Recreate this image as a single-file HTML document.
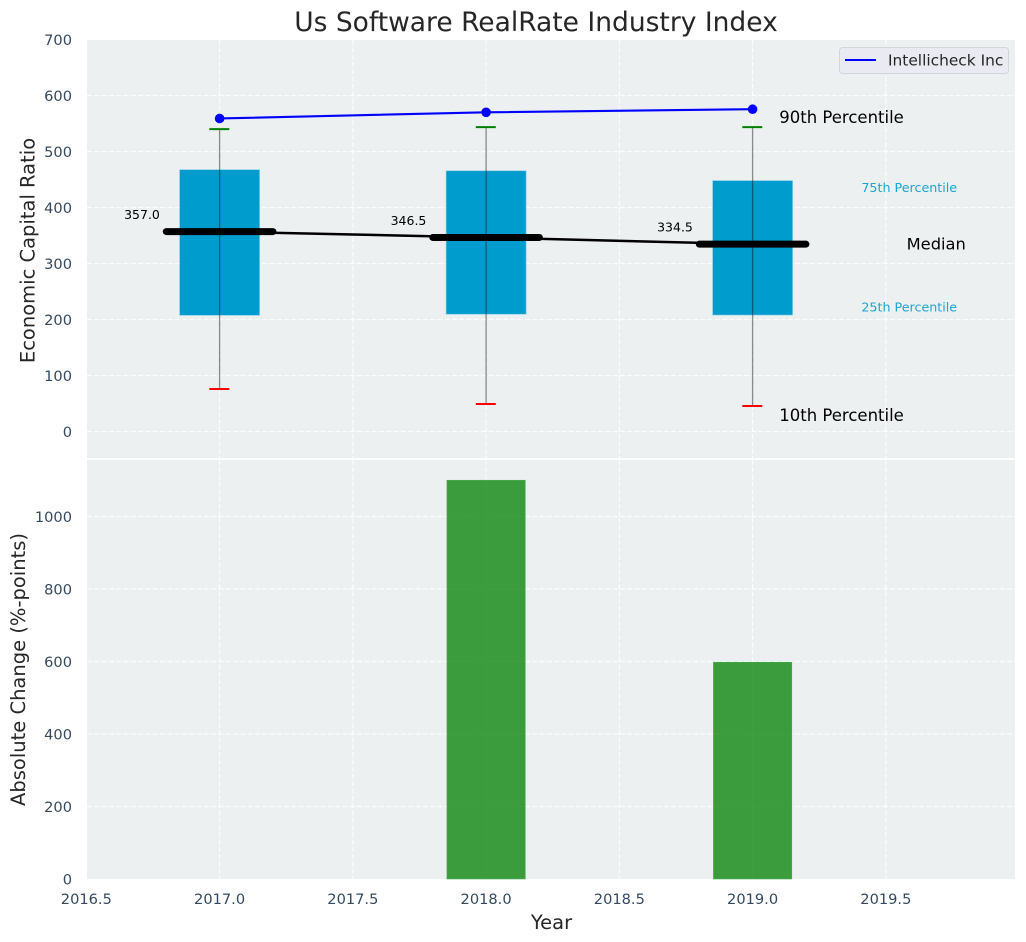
<!DOCTYPE html>
<html>
<head>
<meta charset="utf-8">
<title>Us Software RealRate Industry Index</title>
<style>
html,body{margin:0;padding:0;background:#fff;width:1026px;height:942px;overflow:hidden}
svg{display:block;font-family:"DejaVu Sans","Liberation Sans",sans-serif}
</style>
</head>
<body>
<svg id="chart" width="1026" height="942" viewBox="0 0 1026 942" xmlns="http://www.w3.org/2000/svg">
  <rect x="0" y="0" width="1026" height="942" fill="#ffffff"/>
  <g id="top-panel"></g>
  <g id="bottom-panel"></g>
  <text x="536" y="31" font-size="26.5" fill="#262626" text-anchor="middle">Us Software RealRate Industry Index</text>
  <text transform="translate(34.5,250.5) rotate(-90)" font-size="19.5" fill="#262626" text-anchor="middle">Economic Capital Ratio</text>
  <text transform="translate(25,669.5) rotate(-90)" font-size="19.5" fill="#262626" text-anchor="middle">Absolute Change (%-points)</text>
  <text x="551.5" y="929" font-size="19.5" fill="#262626" text-anchor="middle">Year</text>
  <g>
    <rect x="839.5" y="47.5" width="169" height="26" rx="3" fill="#eaeaf2" stroke="#d3d5da" stroke-width="1"/>
    <line x1="845" y1="60" x2="876" y2="60" stroke="#0000ff" stroke-width="2"/>
    <text x="888" y="65.5" font-size="15.4" fill="#262626">Intellicheck Inc</text>
  </g>
</svg>
<script>
const years = [2017, 2018, 2019];
const p90 = [540, 543.5, 543.5];
const p75 = [467.5, 465.5, 448];
const medians = [357.0, 346.5, 334.5];
const p25 = [207.5, 209.5, 208];
const p10 = [76, 49, 45.5];
const companyValues = [559, 570, 575.5];
const changeValues = [0, 1100, 598];
const xTickLabels = ['2016.5', '2017.0', '2017.5', '2018.0', '2018.5', '2019.0', '2019.5'];
const topYTickLabels = ['0', '100', '200', '300', '400', '500', '600', '700'];
const bottomYTickLabels = ['0', '200', '400', '600', '800', '1000'];

const NS = 'http://www.w3.org/2000/svg';
const L = 87, R = 1015, TT = 40, TB = 458, BT = 460, BB = 879;
const x = v => 219.6 + (v - 2017) * 266.5;
const yTop = v => 431.5 - v * 0.56;
const yBot = v => 879 - v * 0.3625;
const topPanel = document.getElementById('top-panel');
const bottomPanel = document.getElementById('bottom-panel');

function make(parent, tag, attrs, text) {
  const el = document.createElementNS(NS, tag);
  for (const k in attrs) el.setAttribute(k, attrs[k]);
  if (text !== undefined) el.textContent = text;
  parent.appendChild(el);
  return el;
}
let el;

// panel backgrounds
el = make(topPanel, 'rect', {x: L, y: TT, width: R - L, height: TB - TT, fill: '#ecf0f1'});


el = make(bottomPanel, 'rect', {x: L, y: BT, width: R - L, height: BB - BT, fill: '#ecf0f1'});



const gridStyle = {stroke: '#ffffff', 'stroke-width': 1.2, 'stroke-dasharray': '5.1 2.2', opacity: 0.8};

// vertical grid
xTickLabels.forEach(t => {
  const px = x(parseFloat(t));
  if (px > L + 1) {
    el = make(topPanel, 'line', Object.assign({x1: px, x2: px, y1: TT, y2: TB}, gridStyle));
    
    
  }
  if (px > L + 1) {
    el = make(bottomPanel, 'line', Object.assign({x1: px, x2: px, y1: BT, y2: BB}, gridStyle));
    
    
  }
  el = make(bottomPanel, 'text', {x: px, y: 904, 'font-size': 14.6, fill: '#34495e', 'text-anchor': 'middle'}, t);
  
  
});

// horizontal grid and y ticks, top
topYTickLabels.forEach(t => {
  const py = yTop(parseFloat(t));
  if (py > TT + 1) {
    el = make(topPanel, 'line', Object.assign({x1: L, x2: R, y1: py, y2: py}, gridStyle));
    
    
  }
  el = make(topPanel, 'text', {x: 72, y: py + 5.3, 'font-size': 14.6, fill: '#34495e', 'text-anchor': 'end'}, t);
  
  
});

// horizontal grid and y ticks, bottom
bottomYTickLabels.forEach(t => {
  const py = yBot(parseFloat(t));
  if (py < BB - 1) {
    el = make(bottomPanel, 'line', Object.assign({x1: L, x2: R, y1: py, y2: py}, gridStyle));
    
    
  }
  el = make(bottomPanel, 'text', {x: 72, y: py + 5.3, 'font-size': 14.6, fill: '#34495e', 'text-anchor': 'end'}, t);
  
  
});

// interquartile boxes
years.forEach((yr, i) => {
  el = make(topPanel, 'rect', {
    x: x(yr - 0.15), y: yTop(p75[i]), width: x(yr + 0.15) - x(yr - 0.15), height: yTop(p25[i]) - yTop(p75[i]),
    fill: '#009ccd', stroke: '#7cc9e3', 'stroke-width': 0.6
  });
  
  
});

// median trend line
el = make(topPanel, 'polyline', {
  points: years.map((yr, i) => x(yr) + ',' + yTop(medians[i])).join(' '),
  fill: 'none', stroke: '#000000', 'stroke-width': 2.5
});



// whiskers, caps, medians, values
years.forEach((yr, i) => {
  el = make(topPanel, 'line', {x1: x(yr), x2: x(yr), y1: yTop(p90[i]), y2: yTop(p10[i]), stroke: '#1c1c1c', 'stroke-opacity': 0.5, 'stroke-width': 1.3});
  
  

  el = make(topPanel, 'line', {x1: x(yr) - 10.3, x2: x(yr) + 9.7, y1: yTop(p90[i]), y2: yTop(p90[i]), stroke: '#008000', 'stroke-width': 2});
  
  

  el = make(topPanel, 'line', {x1: x(yr) - 10.3, x2: x(yr) + 9.7, y1: yTop(p10[i]), y2: yTop(p10[i]), stroke: '#ff0000', 'stroke-width': 2});
  
  

  el = make(topPanel, 'line', {x1: x(yr - 0.2), x2: x(yr + 0.2), y1: yTop(medians[i]), y2: yTop(medians[i]), stroke: '#000000', 'stroke-width': 7, 'stroke-linecap': 'round'});
  
  

  el = make(topPanel, 'text', {x: x(yr - 0.224), y: yTop(medians[i]) - 12.5, 'font-size': 12.5, fill: '#000000', 'text-anchor': 'end'}, medians[i].toFixed(1));
  
  
});

// company line
el = make(topPanel, 'polyline', {
  points: years.map((yr, i) => x(yr) + ',' + yTop(companyValues[i])).join(' '),
  fill: 'none', stroke: '#0000ff', 'stroke-width': 2.1
});


years.forEach((yr, i) => {
  el = make(topPanel, 'circle', {cx: x(yr), cy: yTop(companyValues[i]), r: 4.8, fill: '#0000ff'});
  
  
});

// percentile annotations anchored to the last year
const last = years.length - 1;
el = make(topPanel, 'text', {x: x(years[last] + 0.1), y: yTop(p90[last]) - 4, 'font-size': 16.5, fill: '#000000'}, '90th Percentile');


el = make(topPanel, 'text', {x: x(years[last] + 0.408), y: yTop(p75[last]) + 11.5, 'font-size': 12.7, fill: '#1ea4d2'}, '75th Percentile');


el = make(topPanel, 'text', {x: x(years[last] + 0.578), y: yTop(medians[last]) + 5.5, 'font-size': 16.3, fill: '#000000'}, 'Median');


el = make(topPanel, 'text', {x: x(years[last] + 0.408), y: yTop(p25[last]) - 3.5, 'font-size': 12.7, fill: '#1ea4d2'}, '25th Percentile');


el = make(topPanel, 'text', {x: x(years[last] + 0.1), y: yTop(p10[last]) + 15, 'font-size': 16.5, fill: '#000000'}, '10th Percentile');



// absolute change bars
years.forEach((yr, i) => {
  if (changeValues[i] <= 0) return;
  el = make(bottomPanel, 'rect', {
    x: x(yr - 0.147), y: yBot(changeValues[i]), width: x(yr + 0.147) - x(yr - 0.147), height: yBot(0) - yBot(changeValues[i]),
    fill: '#008000', 'fill-opacity': 0.75, stroke: '#4cae50', 'stroke-width': 0.6
  });
  
  
});
</script>
</body>
</html>
